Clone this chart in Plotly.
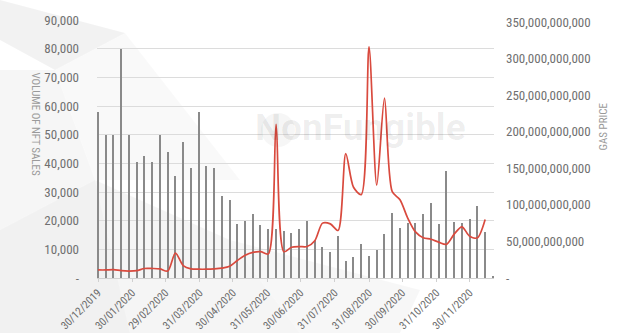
import pandas as pd
import plotly.graph_objects as go

# ---------------- data ----------------
week_start = "2019-12-30"
n_weeks = 52
nft_volume = [58000, 50000, 50000, 80000, 50000, 40500, 42500, 40500, 50000, 44000,
              35500, 47500, 38500, 58000, 39000, 38300, 28600, 27200, 19000, 20000,
              22300, 18500, 17200, 17200, 16500, 15700, 17100, 20000, 13200, 10900,
              8900, 14600, 6100, 7400, 11800, 7700, 9800, 15200, 22800, 17500,
              19300, 19100, 22500, 26300, 18800, 37400, 19500, 19300, 20700, 25000,
              16100, 800]
gas_price_bn = [11, 11, 11.5, 10, 9.5, 10, 13, 13, 12.5, 9.5,
                34, 17, 12.5, 12, 12, 12.5, 13.5, 16, 24, 31,
                35, 36, 33, 210, 36, 42, 43, 43, 51, 75,
                74, 65, 170, 124, 114, 316, 127, 246, 118, 107,
                82, 63, 55, 53, 49, 46, 60, 70, 57, 55, 80]
x_tick_dates = ["2019-12-30", "2020-01-30", "2020-02-29", "2020-03-31", "2020-04-30",
                "2020-05-31", "2020-06-30", "2020-07-31", "2020-08-31", "2020-09-30",
                "2020-10-31", "2020-11-30"]
x_tick_text = ["30/12/2019", "30/01/2020", "29/02/2020", "31/03/2020", "30/04/2020",
               "31/05/2020", "30/06/2020", "31/07/2020", "31/08/2020", "30/09/2020",
               "31/10/2020", "30/11/2020"]
left_ticks = [0, 10000, 20000, 30000, 40000, 50000, 60000, 70000, 80000, 90000]
left_tick_text = ["-", "10,000", "20,000", "30,000", "40,000", "50,000", "60,000",
                  "70,000", "80,000", "90,000"]
right_ticks = [0, 50e9, 100e9, 150e9, 200e9, 250e9, 300e9, 350e9]
right_tick_text = ["-", "50,000,000,000", "100,000,000,000", "150,000,000,000",
                   "200,000,000,000", "250,000,000,000", "300,000,000,000", "350,000,000,000"]

weeks = pd.date_range(week_start, periods=n_weeks, freq="7D")
gas = [v * 1e9 for v in gas_price_bn]

FONT = "Liberation Sans Narrow, Roboto Condensed, Arial Narrow, Roboto, sans-serif"

fig = go.Figure()
fig.add_trace(go.Bar(x=weeks, y=nft_volume, marker=dict(color="#8a8a8a", line=dict(width=0)),
                     width=1.15 * 86400000, yaxis="y", showlegend=False))
fig.add_trace(go.Scatter(x=weeks[:len(gas)], y=gas, mode="lines",
                         line=dict(color="#d94a3e", width=1.7, shape="spline", smoothing=0.8),
                         yaxis="y2", showlegend=False))

# plot area in pixels: left 97, right 494, top 20, bottom 278
L, R, T, B = 97, 494, 20, 278
def px(xp, yp):
    return (xp - L) / (R - L), (B - yp) / (B - T)

def poly(points, color):
    pts = [px(a, b) for a, b in points]
    path = "M " + " L ".join(f"{a:.4f},{b:.4f}" for a, b in pts) + " Z"
    return dict(type="path", xref="paper", yref="paper", path=path, fillcolor=color,
                line=dict(width=0), layer="below")

shapes = [
    poly([(0, 0), (125, 33), (55, 70), (0, 40)], "rgba(0,0,0,0.05)"),
    poly([(0, 70), (55, 70), (95, 180), (0, 230)], "rgba(0,0,0,0.035)"),
    poly([(0, 230), (95, 180), (130, 333), (0, 333)], "rgba(0,0,0,0.055)"),
    poly([(95, 180), (230, 240), (300, 333), (130, 333)], "rgba(0,0,0,0.04)"),
    poly([(230, 240), (420, 290), (400, 333), (300, 333)], "rgba(0,0,0,0.03)"),
    poly([(55, 70), (125, 33), (240, 180), (95, 180)], "rgba(0,0,0,0.025)"),
]
cx, cy = px(278, 130)
rx = 17 / (R - L)
ry = 17 / (B - T)
shapes.append(dict(type="circle", xref="paper", yref="paper", x0=cx - rx, x1=cx + rx,
                   y0=cy - ry, y1=cy + ry, fillcolor="rgba(0,0,0,0.035)", line=dict(width=0),
                   layer="below"))

wx, wy = px(360, 128)
lx, ly = px(27, 124)
rxp, ryp = px(612, 127)
annotations = [
    dict(text="<b>NonFungible</b>", xref="paper", yref="paper", x=wx, y=wy, showarrow=False,
         font=dict(family="Roboto, sans-serif", size=37, color="rgba(0,0,0,0.07)")),
    dict(text="VOLUME OF NFT SALES", xref="paper", yref="paper", x=lx, y=ly, showarrow=False,
         textangle=90, font=dict(family=FONT, size=11, color="#9a9a9a")),
    dict(text="GAS PRICE", xref="paper", yref="paper", x=rxp, y=ryp, showarrow=False,
         textangle=-90, font=dict(family=FONT, size=11, color="#9a9a9a")),
]

fig.update_layout(
    width=621, height=333,
    margin=dict(l=L, r=621 - R, t=T, b=333 - B, autoexpand=False),
    paper_bgcolor="white", plot_bgcolor="rgba(0,0,0,0)",
    font=dict(family=FONT, color="#666666"),
    bargap=0,
    shapes=shapes,
    annotations=annotations,
    xaxis=dict(type="date", range=["2019-12-29 02:00", "2020-12-22"],
               tickvals=x_tick_dates, ticktext=x_tick_text, tickangle=-45,
               tickfont=dict(size=11, color="#6a6a6a"), showgrid=False,
               showline=True, linecolor="#d0d0d0", linewidth=1,
               ticks="outside", ticklen=3, tickcolor="#d0d0d0", zeroline=False,
               automargin=False, ticklabeloverflow="allow"),
    yaxis=dict(range=[0, 90000], tickvals=left_ticks, ticktext=left_tick_text,
               tickfont=dict(size=13, color="#707070"), showgrid=True, gridcolor="#dcdcdc",
               gridwidth=1, zeroline=False, ticks="", ticklabelstandoff=17, automargin=False),
    yaxis2=dict(range=[0, 352.7e9], tickvals=right_ticks, ticktext=right_tick_text,
                overlaying="y", side="right", showgrid=False, zeroline=False,
                tickfont=dict(size=13, color="#707070"), ticks="", ticklabelstandoff=11,
                automargin=False),
)

fig.write_html("out.html")
